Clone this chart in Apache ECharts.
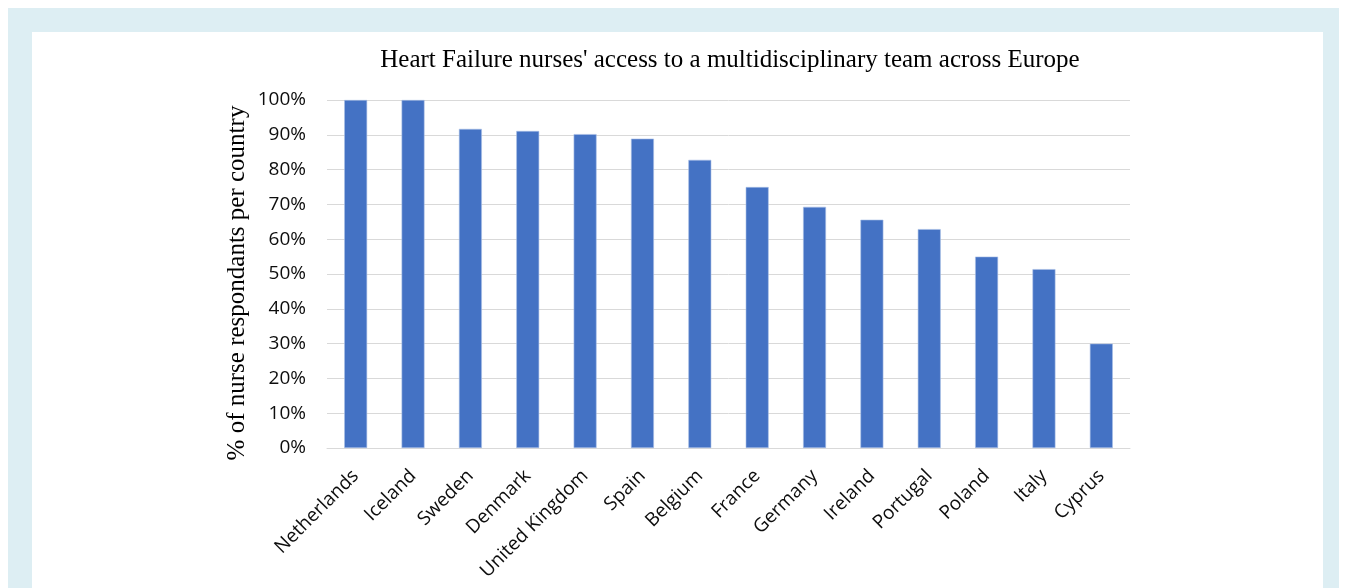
<!DOCTYPE html>
<html>
<head>
<meta charset="utf-8">
<script src="https://cdn.jsdelivr.net/npm/echarts@6/dist/echarts.min.js"></script>
<style>
html,body{margin:0;padding:0;background:#fff;}
#outer{position:absolute;left:8px;top:8px;width:1331px;height:580px;background:#ddeef3;}
#inner{position:absolute;left:32px;top:32px;width:1291px;height:556px;background:#fff;}
#chart{position:absolute;left:0;top:0;width:1347px;height:588px;}
</style>
</head>
<body>
<div id="outer"></div>
<div id="inner"></div>
<div id="chart"></div>
<script>
const titleText = "Heart Failure nurses' access to a multidisciplinary team across Europe";
const yAxisName = "% of nurse respondants per country";
const countries = ["Netherlands","Iceland","Sweden","Denmark","United Kingdom","Spain","Belgium","France","Germany","Ireland","Portugal","Poland","Italy","Cyprus"];
const values = [100, 100, 91.7, 91.1, 90.2, 88.9, 82.8, 75.0, 69.3, 65.6, 62.9, 55.0, 51.4, 30.0];
const yTicks = [0, 10, 20, 30, 40, 50, 60, 70, 80, 90, 100];

const chart = echarts.init(document.getElementById('chart'), null, {renderer:'canvas'});
chart.setOption({
  backgroundColor: 'transparent',
  animation: false,
  title: {
    text: titleText,
    left: 725, top: 43, textAlign: 'center',
    textStyle: {fontFamily: 'Liberation Serif', fontSize: 25, fontWeight: 'normal', color: '#000'}
  },
  graphic: [{
    type: 'text',
    x: 237, y: 283,
    rotation: Math.PI / 2,
    style: {
      text: yAxisName,
      fontFamily: 'Liberation Serif', fontSize: 25, fill: '#000',
      align: 'center', verticalAlign: 'middle'
    }
  }],
  grid: {left: 327, right: 1347 - 1130, top: 100, bottom: 588 - 448},
  xAxis: {
    type: 'category',
    data: countries,
    axisLine: {lineStyle: {color: '#d9d9d9', width: 1}},
    axisTick: {show: false},
    axisLabel: {rotate: 45, margin: 25, fontFamily: 'Open Sans', fontSize: 19, color: '#0d0d0d', interval: 0}
  },
  yAxis: {
    type: 'value',
    min: yTicks[0], max: yTicks[yTicks.length - 1], interval: 10,
    axisLine: {show: false},
    axisTick: {show: false},
    splitLine: {lineStyle: {color: '#d9d9d9', width: 1}},
    axisLabel: {formatter: v => v + '%', margin: 21, fontFamily: 'Open Sans', fontSize: 19, color: '#0d0d0d'}
  },
  series: [{
    type: 'bar',
    data: values,
    barWidth: '40%',
    itemStyle: {color: '#4472c4', borderColor: '#a9bfe6', borderWidth: 0.6}
  }]
});
</script>
</body>
</html>
